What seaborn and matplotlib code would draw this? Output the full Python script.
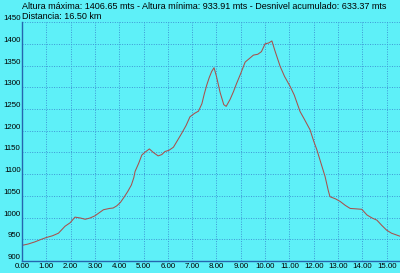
import matplotlib
matplotlib.use("Agg")
import matplotlib.pyplot as plt
import seaborn as sns
import pandas as pd

dist = [0.0, 0.25, 0.53, 0.8, 1.0, 1.25, 1.5, 1.77, 1.98, 2.18, 2.4, 2.6, 2.8, 3.0, 3.2, 3.35,
        3.6, 3.75, 3.9, 4.05, 4.2, 4.35, 4.5, 4.6, 4.65, 4.8, 4.93, 5.05, 5.24, 5.4, 5.6, 5.75,
        5.88, 6.05, 6.23, 6.4, 6.57, 6.75, 6.91, 7.1, 7.26, 7.4, 7.5, 7.6, 7.7, 7.8, 7.9, 8.0,
        8.15, 8.3, 8.4, 8.56, 8.7, 8.83, 9.0, 9.18, 9.35, 9.52, 9.7, 9.85, 10.0, 10.15, 10.28,
        10.4, 10.62, 10.8, 11.03, 11.2, 11.44, 11.6, 11.85, 12.0, 12.13, 12.3, 12.47, 12.6,
        12.67, 12.9, 13.09, 13.3, 13.5, 13.75, 13.98, 14.19, 14.4, 14.6, 14.8, 15.0, 15.2,
        15.4, 15.55]
elev = [936, 939, 944, 950, 954, 958, 964, 980, 988, 1001, 999, 996, 999, 1004, 1012, 1018,
        1021, 1022, 1027, 1035, 1047, 1060, 1075, 1092, 1106, 1125, 1144, 1150, 1158, 1150,
        1142, 1145, 1152, 1155, 1162, 1178, 1194, 1212, 1232, 1240, 1245, 1262, 1285, 1305,
        1322, 1336, 1345, 1325, 1288, 1260, 1256, 1272, 1290, 1309, 1332, 1358, 1366, 1374,
        1376, 1382, 1400, 1402, 1406.65, 1385, 1348, 1325, 1302, 1282, 1244, 1228, 1202, 1176,
        1156, 1125, 1094, 1062, 1048, 1043, 1037, 1028, 1021, 1020, 1019, 1006, 999, 994, 982,
        971, 964, 960, 957]

x_ticks = [0, 1, 2, 3, 4, 5, 6, 7, 8, 9, 10, 11, 12, 13, 14, 15]
y_ticks = [900, 950, 1000, 1050, 1100, 1150, 1200, 1250, 1300, 1350, 1400, 1450]
header1 = "Altura máxima: 1406.65 mts - Altura mínima: 933.91 mts - Desnivel acumulado: 633.37 mts"
header2 = "Distancia: 16.50 km"

bg = "#5EF0F8"
axis_col = "#2566B0"
grid_col = "#3E98D6"

sns.set_theme(style="white")
plt.rcParams['font.family'] = ['Liberation Sans', 'DejaVu Sans']

fig = plt.figure(figsize=(4.0, 2.73), dpi=100, facecolor=bg)
ax = fig.add_axes([0.055, 0.044, 0.945, 0.875])
ax.set_facecolor(bg)

df = pd.DataFrame({"dist": dist, "elev": elev})
sns.lineplot(data=df, x="dist", y="elev", ax=ax, color="#A8504C", linewidth=0.75)

ax.set_xlim(0, 15.55)
ax.set_ylim(900, 1450)
ax.set_xticks(x_ticks)
ax.set_xticklabels([f"{v:.2f}" for v in x_ticks])
ax.set_yticks(y_ticks)
ax.set_yticklabels([str(v) for v in y_ticks], va="bottom")
ax.tick_params(axis="both", length=0, labelsize=5.7, colors="black")
ax.tick_params(axis="x", pad=1.5)
ax.tick_params(axis="y", pad=1.0)
ax.set_xlabel("")
ax.set_ylabel("")

ax.grid(True, color=grid_col, linestyle=(0, (1, 1.5)), linewidth=0.7)
for s in ["top", "right"]:
    ax.spines[s].set_visible(False)
for s in ["left", "bottom"]:
    ax.spines[s].set_color(axis_col)
    ax.spines[s].set_linewidth(1.0)

fig.text(0.055, 0.978, header1, fontsize=6.5, ha="left", va="center", color="black")
fig.text(0.056, 0.938, header2, fontsize=6.5, ha="left", va="center", color="black")

fig.savefig("out.png", dpi=100, facecolor=bg)
